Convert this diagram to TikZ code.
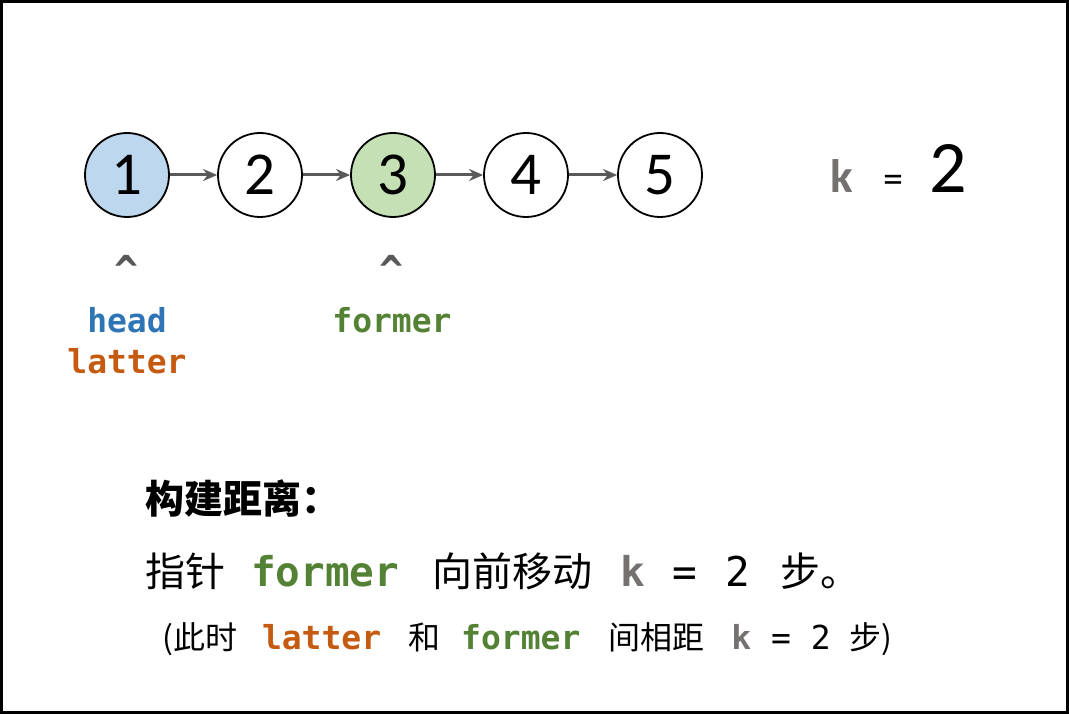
\documentclass[tikz,border=0pt]{standalone}
\usepackage{fontspec}
\setmainfont{Carlito}
\setmonofont{DejaVu Sans Mono}
\newfontfamily\cjk{Noto Sans CJK SC}
\usetikzlibrary{arrows.meta}
\definecolor{hc}{HTML}{2E75B6}
\definecolor{lc}{HTML}{C55A11}
\definecolor{fc}{HTML}{548235}
\definecolor{kc}{HTML}{767171}
\definecolor{ar}{HTML}{595959}
\definecolor{bf}{HTML}{BDD7EE}
\definecolor{gf}{HTML}{C5E0B4}
\newcommand\cod[2]{{\bfseries\color{#1}#2}}

\begin{document}
\begin{tikzpicture}[x=1pt, y=-1pt,
  >={Stealth[length=14pt, width=12pt]},
  nd/.style={circle, draw, line width=1.8pt, minimum size=84pt, inner sep=0pt, font=\fontsize{61}{61}\selectfont},
  ln/.style={->, draw=ar, fill=ar, line width=3pt},
  pt/.style={anchor=base, inner sep=0pt, font=\ttfamily\bfseries\fontsize{33}{33}\selectfont},
  cr/.style={pt, text=ar, font=\ttfamily\bfseries\fontsize{40}{40}\selectfont},
  tx/.style={anchor=base west, inner sep=0pt}]
\draw[line width=3pt] (1.5,1.5) rectangle (1067.5,712.5);
% list
\node[nd, fill=bf] (n1) at (127,175) {1};
\node[nd] (n2) at (260,175) {2};
\node[nd, fill=gf] (n3) at (393,175) {3};
\node[nd] (n4) at (526,175) {4};
\node[nd] (n5) at (660,175) {5};
\foreach \i [evaluate=\i as \j using int(\i+1)] in {1,...,4}
  \draw[ln] (n\i) -- (n\j);
\node[tx] (kv) at (830,193) {{\color{kc}\bfseries\fontsize{47}{47}\selectfont k}\hspace{31pt}{\fontsize{40}{40}\selectfont =}\hspace{26pt}{\fontsize{74}{74}\selectfont 2}};
% pointers
\node[cr] (c1) at (127,284) {\textasciicircum};
\node[cr] (c3) at (392,284) {\textasciicircum};
\node[pt, text=hc] (hd) at (127,333) {head};
\node[pt, text=lc] (lt) at (127,373) {latter};
\node[pt, text=fc] (fm) at (392,333) {former};
% text
\node[tx, font=\cjk\bfseries\fontsize{39}{39}\selectfont] (title) at (145,513) {构建距离：};
\node[tx, font=\fontsize{40}{40}\selectfont] (step) at (145,586) {{\cjk 指针}\hspace{26pt}{\ttfamily\fontsize{41}{41}\selectfont\cod{fc}{former}}\hspace{33pt}{\cjk 向前移动}\hspace{28pt}{\ttfamily\fontsize{41}{41}\selectfont\cod{kc}{k}\hspace{28pt}=\hspace{28pt}2}\hspace{30pt}{\cjk 步。}};
\node[tx, font=\fontsize{32}{32}\selectfont] (note) at (162,649) {{\cjk (此时}\hspace{25pt}{\ttfamily\fontsize{33}{33}\selectfont\cod{lc}{latter}}\hspace{27pt}{\cjk 和}\hspace{21pt}{\ttfamily\fontsize{33}{33}\selectfont\cod{fc}{former}}\hspace{28pt}{\cjk 间相距}\hspace{27pt}{\ttfamily\fontsize{33}{33}\selectfont\cod{kc}{k} = 2}\hspace{19pt}{\cjk 步)}};
\end{tikzpicture}
\end{document}
